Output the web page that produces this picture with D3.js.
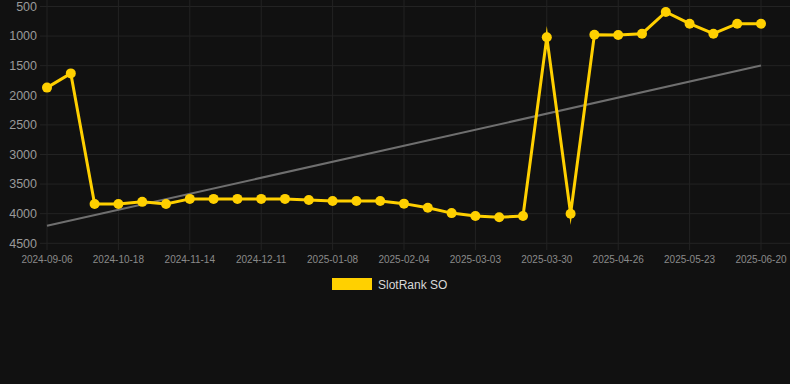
<!DOCTYPE html>
<html><head><meta charset="utf-8">
<script src="https://cdn.jsdelivr.net/npm/d3@7"></script>
<style>html,body{margin:0;padding:0;background:#111111;}svg{display:block;}</style>
</head><body><svg id="c" width="790" height="384"></svg>
<script>
const dates = ["2024-09-06","2024-09-20","2024-10-04","2024-10-18","2024-10-27","2024-11-05","2024-11-14","2024-11-23","2024-12-02","2024-12-11","2024-12-20","2024-12-30","2025-01-08","2025-01-17","2025-01-26","2025-02-04","2025-02-13","2025-02-22","2025-03-03","2025-03-12","2025-03-21","2025-03-30","2025-04-08","2025-04-17","2025-04-26","2025-05-05","2025-05-14","2025-05-23","2025-06-01","2025-06-11","2025-06-20"];
const values = [1870,1630,3836,3836,3800,3836,3750,3750,3750,3750,3750,3770,3785,3785,3785,3830,3900,3990,4040,4060,4040,1020,4000,976,980,960,593,790,960,790,790];
const yTicks = [500,1000,1500,2000,2500,3000,3500,4000,4500];
const seriesName = "SlotRank SO";

const svg = d3.select("#c");
const pLeft = 47, pRight = 761, pTop = 6.5, pBottom = 243.3;
const x = d3.scalePoint().domain(dates).range([pLeft, pRight]);
const y = d3.scaleLinear().domain([500, 4500]).range([pTop, pBottom]);

// grid
const g = svg.append("g");
g.selectAll("line.h").data(yTicks).join("line")
  .attr("x1", 40).attr("x2", 790)
  .attr("y1", d => y(d)).attr("y2", d => y(d))
  .attr("stroke", "#232323").attr("stroke-width", 1);
const xLabels = dates.filter((d, i) => i % 3 === 0);
g.selectAll("line.v").data(xLabels).join("line")
  .attr("x1", d => x(d)).attr("x2", d => x(d))
  .attr("y1", 0).attr("y2", 250)
  .attr("stroke", "#232323").attr("stroke-width", 1);

// y labels
svg.append("g").selectAll("text").data(yTicks).join("text")
  .attr("x", 37).attr("y", d => y(d)).attr("dy", "0.35em")
  .attr("text-anchor", "end").attr("fill", "#9a9a9a")
  .attr("font-family", "Arial, Liberation Sans, sans-serif").attr("font-size", 12.5)
  .text(d => d);

// x labels
svg.append("g").selectAll("text").data(xLabels).join("text")
  .attr("x", d => x(d)).attr("y", 263)
  .attr("text-anchor", "middle").attr("fill", "#8a8a8a")
  .attr("font-family", "Arial, Liberation Sans, sans-serif").attr("font-size", 10)
  .text(d => d);

// trend (linear regression over the series)
const n = values.length;
const idx = d3.range(n);
const mx = d3.mean(idx), my = d3.mean(values);
const slope = d3.sum(idx, i => (i - mx) * (values[i] - my)) / d3.sum(idx, i => (i - mx) ** 2);
const icpt = my - slope * mx;
svg.append("line")
  .attr("x1", x(dates[0])).attr("y1", y(icpt))
  .attr("x2", x(dates[n - 1])).attr("y2", y(icpt + slope * (n - 1)))
  .attr("stroke", "#6f6f6f").attr("stroke-width", 2);

// series line
const line = d3.line().x((d, i) => x(dates[i])).y(d => y(d));
svg.append("path").datum(values).attr("d", line)
  .attr("fill", "none").attr("stroke", "#FFD000").attr("stroke-width", 3)
  .attr("stroke-linejoin", "miter").attr("stroke-miterlimit", 10);
svg.append("g").selectAll("circle").data(values).join("circle")
  .attr("cx", (d, i) => x(dates[i])).attr("cy", d => y(d)).attr("r", 5)
  .attr("fill", "#FFD000");

// legend
svg.append("rect").attr("x", 332).attr("y", 278).attr("width", 40).attr("height", 12).attr("fill", "#FFD000");
svg.append("text").attr("x", 378).attr("y", 288.5).attr("fill", "#d8d8d8")
  .attr("font-family", "Arial, Liberation Sans, sans-serif").attr("font-size", 12)
  .text(seriesName);
</script></body></html>
